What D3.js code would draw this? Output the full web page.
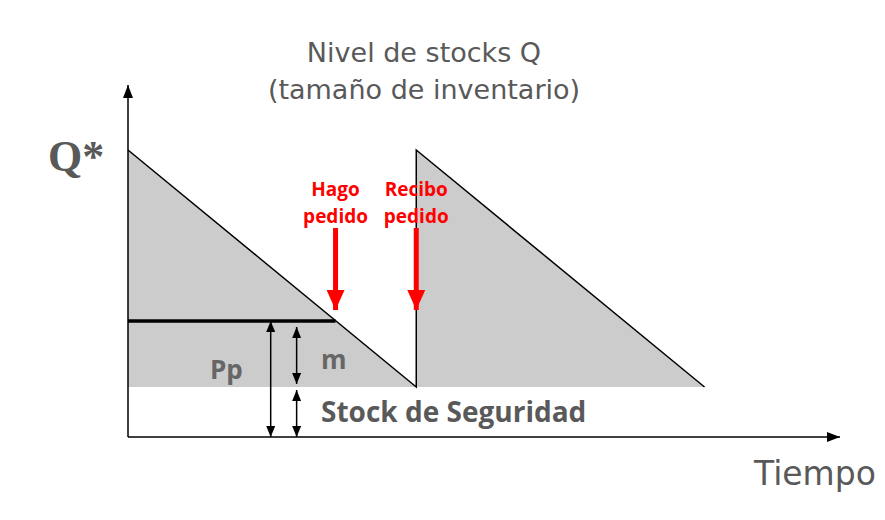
<!DOCTYPE html>
<html><head><meta charset="utf-8">
<script src="https://cdn.jsdelivr.net/npm/d3@7"></script>
<style>body{margin:0;background:#fff}svg{display:block}</style>
</head><body>
<svg id="c" width="885" height="520"></svg>
<script>
// --- data (inventory units / time in cycles) ---
const cycleTimes = [0, 1, 1, 2];          // sawtooth vertices (time)
const cycleLevels = [287, 50, 287, 50];  // stock level at those times
const safetyStock = 50;
const reorderPoint = 116;
const orderTime = 0.72;
const receiveTime = 1;
const axisMaxTime = 2.47;
const axisMaxLevel = 352;
const titleLines = ["Nivel de stocks Q", "(tamaño de inventario)"];
const orderLabel = ["Hago", "pedido"];
const receiveLabel = ["Recibo", "pedido"];

const svg = d3.select("#c");
const x = d3.scaleLinear().domain([0, axisMaxTime]).range([128, 840]);
const y = d3.scaleLinear().domain([0, axisMaxLevel]).range([437, 85]);

const defs = svg.append("defs");
function marker(id, w, h, color) {
  defs.append("marker").attr("id", id).attr("viewBox", `0 0 ${h} ${w}`)
    .attr("refX", h).attr("refY", w / 2).attr("markerWidth", h).attr("markerHeight", w)
    .attr("markerUnits", "userSpaceOnUse").attr("orient", "auto-start-reverse")
    .append("path").attr("d", `M0,0L${h},${w / 2}L0,${w}Z`).attr("fill", color);
}
marker("ax", 10, 13, "#000");
marker("dbl", 9, 11, "#000");
marker("red", 18, 20, "#ff0000");

// gray area
const pts = cycleTimes.map((t, i) => [t, cycleLevels[i]]);
const areaPts = [...pts, [0, safetyStock]];
svg.append("path")
  .attr("d", d3.line().x(d => x(d[0])).y(d => y(d[1]))(areaPts) + "Z")
  .attr("fill", "#cccccc");
// sawtooth line
svg.append("path")
  .attr("d", d3.line().x(d => x(d[0])).y(d => y(d[1]))(pts))
  .attr("fill", "none").attr("stroke", "#000").attr("stroke-width", 1.5);

// axes
svg.append("line").attr("x1", x(0)).attr("y1", y(0)).attr("x2", x(0)).attr("y2", y(axisMaxLevel))
  .attr("stroke", "#000").attr("stroke-width", 1.5).attr("marker-end", "url(#ax)");
svg.append("line").attr("x1", x(0)).attr("y1", y(0)).attr("x2", x(axisMaxTime)).attr("y2", y(0))
  .attr("stroke", "#000").attr("stroke-width", 1.5).attr("marker-end", "url(#ax)");

// reorder point line
svg.append("line").attr("x1", x(0)).attr("x2", x(orderTime)).attr("y1", y(reorderPoint)).attr("y2", y(reorderPoint))
  .attr("stroke", "#000").attr("stroke-width", 3.5);

// double arrows
function dbl(t, v0, v1) {
  svg.append("line").attr("x1", x(t)).attr("x2", x(t)).attr("y1", y(v0)).attr("y2", y(v1))
    .attr("stroke", "#000").attr("stroke-width", 1.5)
    .attr("marker-start", "url(#dbl)").attr("marker-end", "url(#dbl)");
}
dbl(0.495, 0, reorderPoint);
dbl(0.585, safetyStock + 3, reorderPoint - 6);
dbl(0.585, 0, safetyStock - 3);

// red arrows
function redArrow(t, lines) {
  svg.append("line").attr("x1", x(t)).attr("x2", x(t)).attr("y1", 228).attr("y2", y(reorderPoint) - 11)
    .attr("stroke", "#ff0000").attr("stroke-width", 5).attr("marker-end", "url(#red)");
  svg.append("text").attr("x", x(t)).attr("y", 196).attr("text-anchor", "middle")
    .attr("font-family", "Open Sans, sans-serif").attr("font-weight", "bold").attr("font-size", 19)
    .attr("fill", "#ff0000")
    .selectAll("tspan").data(lines).join("tspan").attr("x", x(t)).attr("dy", (d, i) => i ? 27 : 0).text(d => d);
}
redArrow(orderTime, orderLabel);
redArrow(receiveTime, receiveLabel);

// texts
const gray = "#595959";
svg.append("text").attr("x", 424).attr("y", 62).attr("text-anchor", "middle")
  .attr("font-family", "DejaVu Sans, sans-serif").attr("font-size", 27).attr("fill", gray)
  .selectAll("tspan").data(titleLines).join("tspan").attr("x", 424).attr("dy", (d, i) => i ? 37 : 0).text(d => d);
svg.append("text").attr("x", 48).attr("y", 171)
  .attr("font-family", "Liberation Serif, serif").attr("font-weight", "bold").attr("font-size", 44)
  .attr("fill", gray).text("Q*");
svg.append("text").attr("x", 210).attr("y", 379)
  .attr("font-family", "Open Sans, sans-serif").attr("font-weight", "bold").attr("font-size", 26)
  .attr("fill", "#666").text("Pp");
svg.append("text").attr("x", 321).attr("y", 369)
  .attr("font-family", "Open Sans, sans-serif").attr("font-weight", "bold").attr("font-size", 26)
  .attr("fill", "#666").text("m");
svg.append("text").attr("x", 321).attr("y", 422)
  .attr("font-family", "Open Sans, sans-serif").attr("font-weight", "bold").attr("font-size", 28)
  .attr("fill", gray).text("Stock de Seguridad");
svg.append("text").attr("x", 754).attr("y", 485)
  .attr("font-family", "DejaVu Sans, sans-serif").attr("font-size", 33).attr("fill", gray).text("Tiempo");
</script>
</body></html>
